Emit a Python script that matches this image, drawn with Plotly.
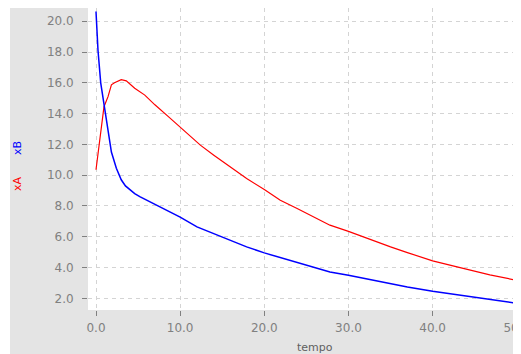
import plotly.graph_objects as go

# Data
tA = [0, 0.3, 0.63, 0.95, 1.43, 1.83, 2.2, 2.6, 3.0, 3.6, 4.6, 5.8, 7.0, 8.6, 10, 12.4, 14,
      15.9, 17.9, 20, 21.9, 23.9, 25.8, 27.8, 30, 33, 35, 37, 40, 42.9, 44.9, 46.8, 50, 51]
xA = [10.35, 11.65, 13.4, 14.45, 15.1, 15.87, 16.0, 16.12, 16.2, 16.13, 15.65, 15.2, 14.57,
      13.8, 13.1, 11.95, 11.3, 10.54, 9.78, 9.07, 8.37, 7.83, 7.29, 6.75, 6.35, 5.73, 5.34,
      4.97, 4.43, 4.04, 3.78, 3.52, 3.17, 3.06]

tB = [0, 0.24, 0.56, 0.87, 1.23, 1.83, 2.42, 3.0, 3.5, 4.0, 4.6, 5.2, 6.0, 7.0, 8.6, 10,
      12, 14, 15.9, 17.9, 20, 21.9, 23.9, 25.8, 27.8, 30, 33, 35, 37, 40, 42.9, 44.9, 46.8,
      50, 51]
xB = [20.63, 18.1, 16.0, 14.9, 13.4, 11.5, 10.45, 9.7, 9.3, 9.05, 8.8, 8.6, 8.38, 8.07,
      7.68, 7.27, 6.64, 6.2, 5.82, 5.34, 4.95, 4.65, 4.3, 4.0, 3.71, 3.5, 3.17, 2.98, 2.74,
      2.46, 2.22, 2.09, 1.94, 1.68, 1.6]

x_ticks = [0, 10, 20, 30, 40, 50]
x_tick_labels = ["0.0", "10.0", "20.0", "30.0", "40.0", "50.0"]
y_ticks = [2, 4, 6, 8, 10, 12, 14, 16, 18, 20]
y_tick_labels = ["2.0", "4.0", "6.0", "8.0", "10.0", "12.0", "14.0", "16.0", "18.0", "20.0"]

GRAY_BG = "#e4e4e4"
TICK_COL = "#808080"
GRID_COL = "#d4d4d4"
FONT = "DejaVu Sans"

# page is offset by the 8px body margin; plot area spans page x 88..521, y 8..310
PX0, PX1, PY0, PY1 = 88, 521, 8, 310


def px(xp):
    return (xp - PX0) / (PX1 - PX0)


def py(yp):
    return (PY1 - yp) / (PY1 - PY0)


fig = go.Figure()
fig.add_trace(go.Scatter(x=tA, y=xA, mode="lines", name="xA",
                         line=dict(color="#ff0000", width=1.2)))
fig.add_trace(go.Scatter(x=tB, y=xB, mode="lines", name="xB",
                         line=dict(color="#0000ff", width=1.5)))

axis_common = dict(
    showgrid=True, gridcolor=GRID_COL, griddash="4px,4px", gridwidth=1,
    zeroline=False, showline=False, automargin=False,
    ticks="outside", ticklen=5, tickcolor=TICK_COL, tickwidth=1,
    tickfont=dict(family=FONT, size=12, color=TICK_COL),
)

fig.update_layout(
    width=513, height=346,
    margin=dict(l=80, r=0, t=0, b=44),
    paper_bgcolor=GRAY_BG, plot_bgcolor="white",
    showlegend=False,
    xaxis=dict(range=[-0.95, 50.5], tickvals=x_ticks, ticktext=x_tick_labels,
               ticklabelstandoff=2, ticklabeloverflow="allow", **axis_common),
    yaxis=dict(range=[1.24, 20.86], tickvals=y_ticks, ticktext=y_tick_labels,
               ticklabelstandoff=6, **axis_common),
    shapes=[
        dict(type="rect", xref="paper", yref="paper", x0=-0.3, x1=px(10),
             y0=-0.3, y1=1.2, fillcolor="white", line=dict(width=0), layer="below"),
    ],
    annotations=[
        dict(text="tempo", xref="paper", yref="paper", x=px(315),
             y=py(347), showarrow=False, xanchor="center", yanchor="middle",
             font=dict(family=FONT, size=11, color="#606060")),
        dict(text="xB", xref="paper", yref="paper", x=px(17),
             y=py(148), showarrow=False, textangle=-90,
             xanchor="center", yanchor="middle",
             font=dict(family=FONT, size=11, color="#0000ff")),
        dict(text="xA", xref="paper", yref="paper", x=px(17),
             y=py(184), showarrow=False, textangle=-90,
             xanchor="center", yanchor="middle",
             font=dict(family=FONT, size=11, color="#ff0000")),
    ],
)

fig.write_html("out.html")
